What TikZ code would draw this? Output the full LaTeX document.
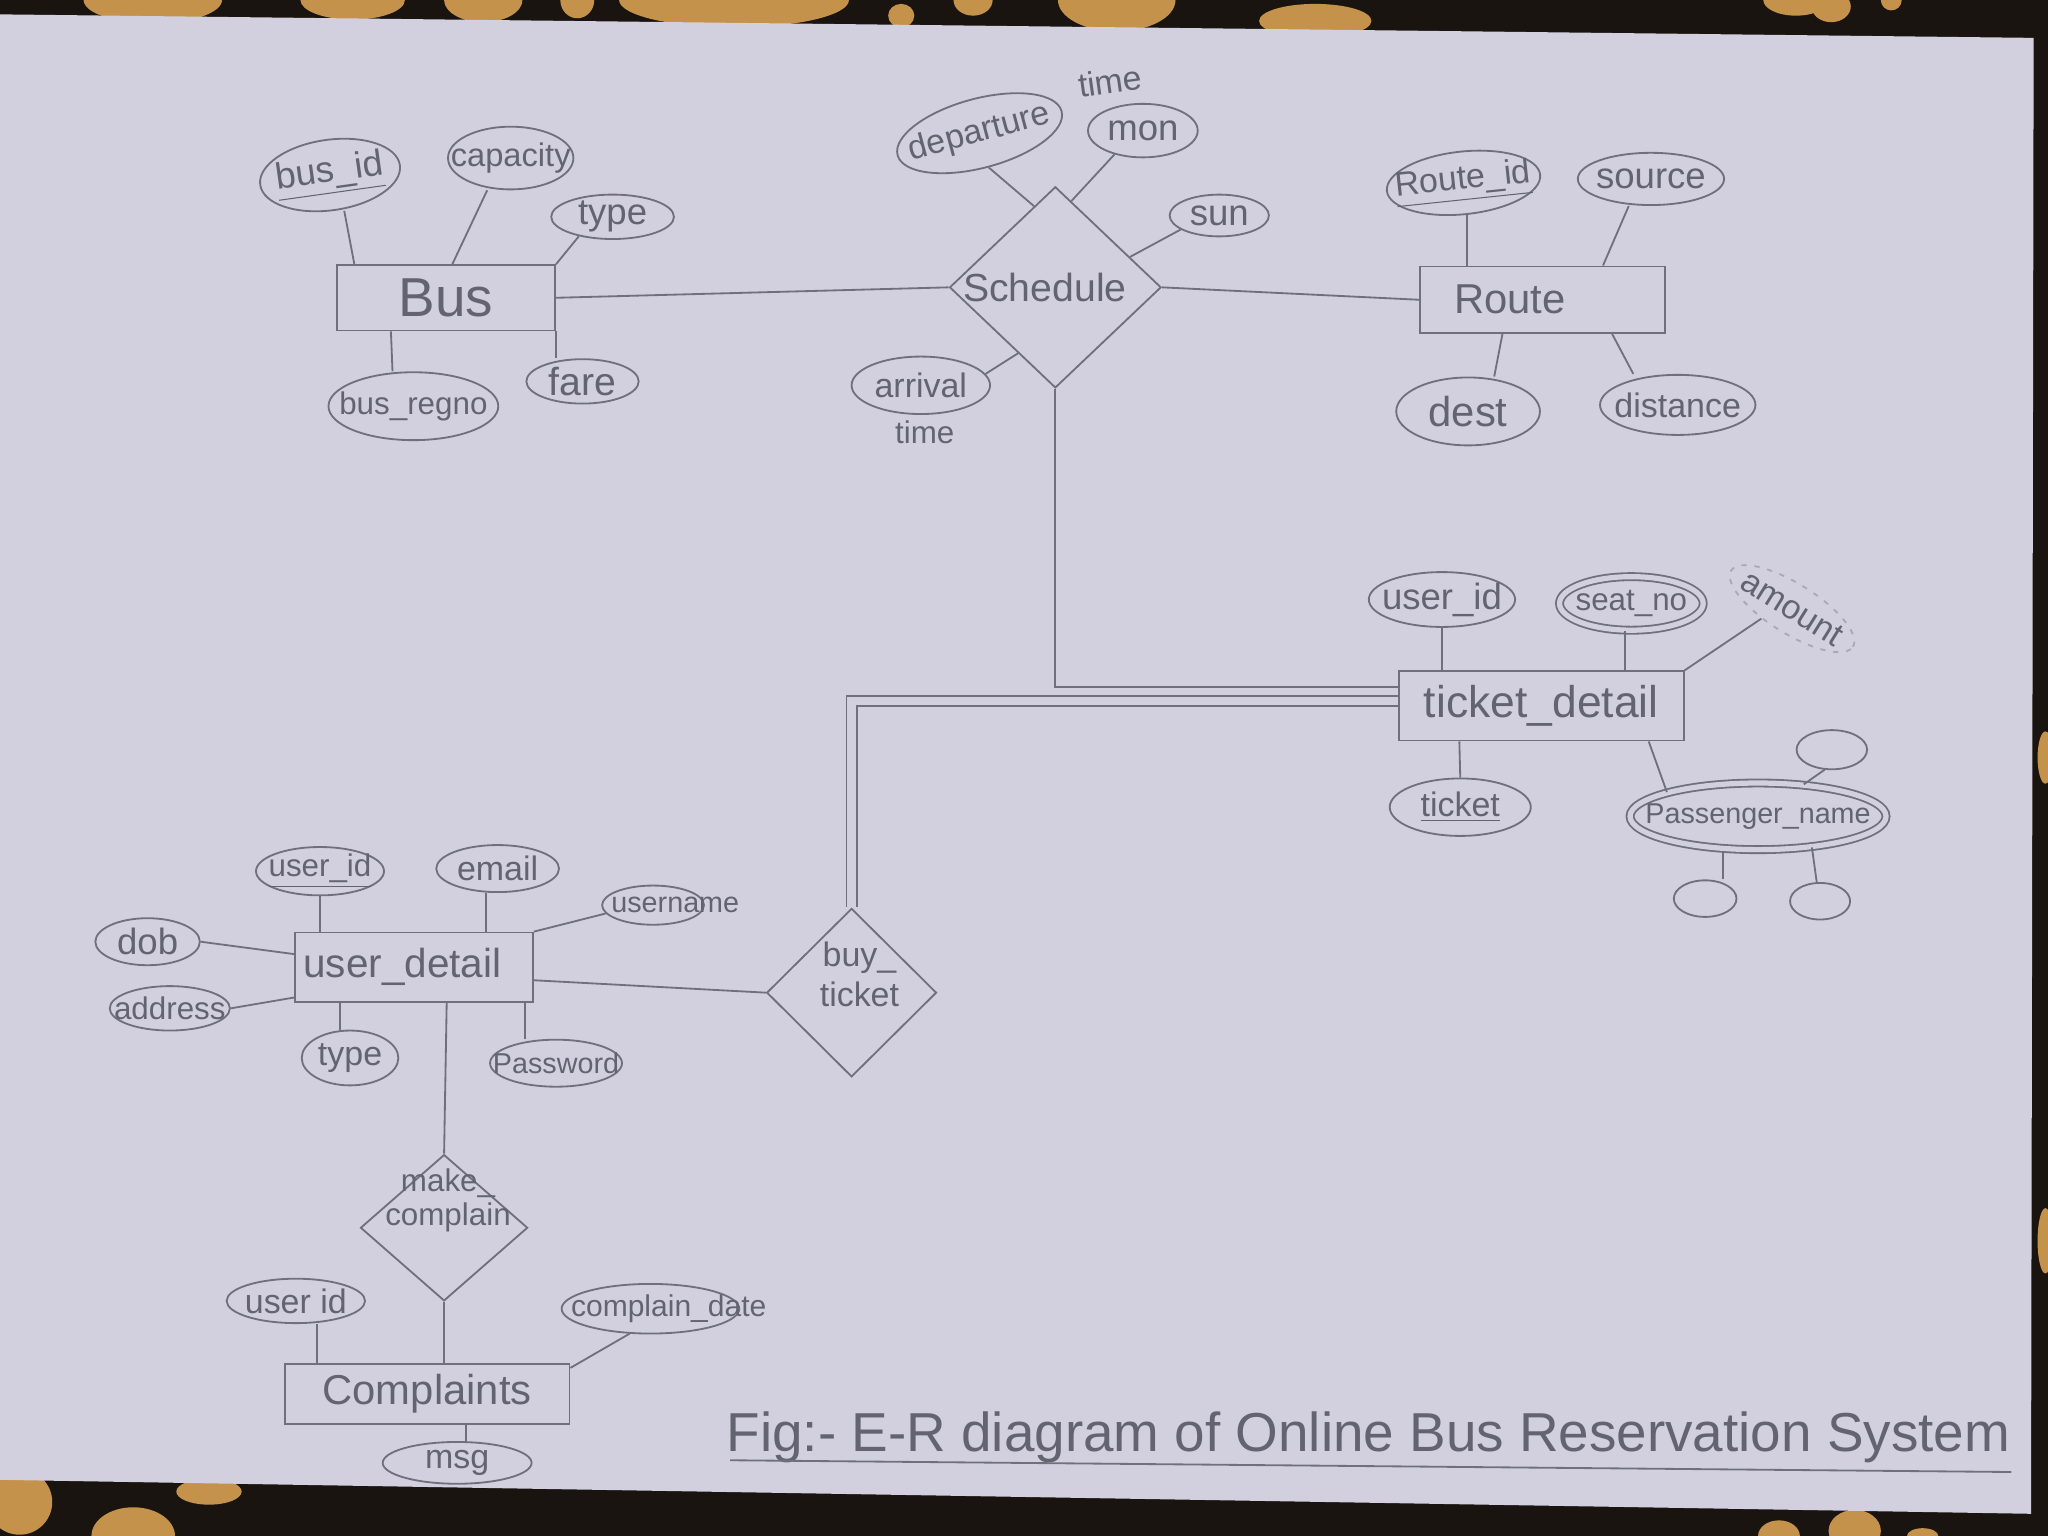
\documentclass[tikz,border=0pt]{standalone}
\usepackage{fontspec}
\setmainfont{Liberation Sans}
\usetikzlibrary{shapes.geometric,calc}
\definecolor{paper}{RGB}{210,208,222}
\definecolor{pencil}{RGB}{112,112,124}
\definecolor{ink}{RGB}{100,100,112}
\definecolor{cloth}{RGB}{26,20,16}
\definecolor{blob}{RGB}{196,146,74}
\newcommand{\fsz}[1]{\fontsize{#1}{#1}\selectfont}
\tikzset{
 conn/.style={draw=pencil, line width=0.7pt},
 entity/.style={rectangle, draw=pencil, line width=0.7pt, inner sep=0pt, text=ink},
 attr/.style={ellipse, draw=pencil, line width=0.7pt, inner sep=0pt, text=ink},
 multi/.style={attr, double=paper, double distance=2pt},
 rel/.style={diamond, draw=pencil, line width=0.7pt, inner sep=0pt, text=ink},
 txt/.style={text=ink, inner sep=0pt},
}
\begin{document}
\begin{tikzpicture}[x=0.5pt,y=-0.5pt]
\useasboundingbox (0,0) rectangle (1568,1176);
% background cloth and paper
\fill[cloth] (0,0) rectangle (1568,1176);
\fill[blob] (117,0) ellipse [x radius=53, y radius=18];
\fill[blob] (270,0) ellipse [x radius=40, y radius=15];
\fill[blob] (370,0) ellipse [x radius=30, y radius=17];
\fill[blob] (442,0) ellipse [x radius=13, y radius=14];
\fill[blob] (562,0) ellipse [x radius=88, y radius=21];
\fill[blob] (690,12) ellipse [x radius=10, y radius=9];
\fill[blob] (745,0) ellipse [x radius=15, y radius=12];
\fill[blob] (855,0) ellipse [x radius=45, y radius=24];
\fill[blob] (1007,16) ellipse [x radius=43, y radius=13];
\fill[blob] (1375,0) ellipse [x radius=25, y radius=12];
\fill[blob] (1402,5) ellipse [x radius=15, y radius=12];
\fill[blob] (1448,0) ellipse [x radius=8, y radius=8];
\fill[blob] (15,1150) ellipse [x radius=25, y radius=25];
\fill[blob] (102,1176) ellipse [x radius=32, y radius=22];
\fill[blob] (160,1142) ellipse [x radius=25, y radius=10];
\fill[blob] (1362,1176) ellipse [x radius=16, y radius=12];
\fill[blob] (1420,1172) ellipse [x radius=20, y radius=16];
\fill[blob] (1472,1176) ellipse [x radius=12, y radius=6];
\fill[blob] (1566,580) ellipse [x radius=6, y radius=20];
\fill[blob] (1566,950) ellipse [x radius=6, y radius=25];
\fill[paper] (0,11) -- (1557,29) -- (1555,1159) -- (0,1133) -- cycle;

% ---------- Bus ----------
\node[entity, minimum width=83.5pt, minimum height=25pt, font=\fsz{21}] (bus) at (341.5,228) {Bus};
\node[attr, minimum width=54pt, minimum height=27pt, rotate=8, font=\fsz{14}] (busid) at (252.7,134) {\makebox[0pt]{\underline{bus\_id}}};
\node[attr, minimum width=48pt, minimum height=24pt, font=\fsz{12.5}] (cap) at (391,121) {\makebox[0pt]{capacity}};
\node[attr, minimum width=47pt, minimum height=17pt, font=\fsz{14}] (btype) at (469,166) {\makebox[0pt]{type}};
\node[attr, minimum width=65pt, minimum height=26pt, font=\fsz{12}] (regno) at (316.5,311) {\makebox[0pt]{bus\_regno}};
\node[attr, minimum width=43pt, minimum height=17pt, font=\fsz{15}] (fare) at (446,292) {\makebox[0pt]{fare}};
\draw[conn] ($(busid.south)+(7,0)$) -- ($(bus.north west)+(14,0)$);
\draw[conn] ($(cap.south)+(-18,0)$) -- ($(bus.north west)+(89,0)$);
\draw[conn] (btype.-150) -- (bus.north east);
\draw[conn] ($(regno.north)+(-16,0)$) -- ($(bus.south west)+(42,0)$);
\draw[conn] (bus.south east) -- (bus.south east |- fare.north);

% ---------- Schedule ----------
\node[rel, minimum width=81pt, minimum height=77pt, font=\fsz{15}] (sched) at (808,220) {\makebox[0pt]{\hspace{-8pt}Schedule}};
\node[attr, minimum width=65pt, minimum height=26.5pt, rotate=15, font=\fsz{13}] (dep) at (750,102) {\makebox[0pt]{departure}};
\node[txt, font=\fsz{13}, rotate=8] (deptime) at (850,62) {time};
\node[attr, minimum width=42pt, minimum height=20.5pt, font=\fsz{14}] (mon) at (875,100) {\makebox[0pt]{mon}};
\node[attr, minimum width=38pt, minimum height=16pt, font=\fsz{14}] (sun) at (933.5,165) {\makebox[0pt]{sun}};
\node[attr, minimum width=53pt, minimum height=22pt, font=\fsz{13}] (arr) at (705,295) {\makebox[0pt]{arrival}};
\node[txt, font=\fsz{12}] (arrtime) at (708,331) {time};
\draw[conn] (dep.south) -- ($(sched.north)!0.2!(sched.west)$);
\draw[conn] (mon.-140) -- ($(sched.north)!0.15!(sched.east)$);
\draw[conn] (sun.-160) -- ($(sched.north)!0.7!(sched.east)$);
\draw[conn] (arr.10) -- ($(sched.south)!0.35!(sched.west)$);
\draw[conn] (bus.east) -- (sched.west);

% ---------- Route ----------
\node[entity, minimum width=94pt, minimum height=25.5pt, font=\fsz{16}] (route) at (1181,229.5) {\makebox[0pt]{\hspace{-25pt}Route}};
\node[attr, minimum width=59pt, minimum height=24pt, rotate=6, font=\fsz{13}] (rid) at (1120.5,140) {\makebox[0pt]{\underline{Route\_id}}};
\node[attr, minimum width=56pt, minimum height=20pt, font=\fsz{14}] (src) at (1264,137) {\makebox[0pt]{source}};
\node[attr, minimum width=55pt, minimum height=26pt, font=\fsz{16}] (dest) at (1124,315) {\makebox[0pt]{dest}};
\node[attr, minimum width=59.5pt, minimum height=23pt, font=\fsz{13}] (dist) at (1284.5,310) {\makebox[0pt]{distance}};
\draw[conn] (rid.south) -- (rid.south |- route.north);
\draw[conn] ($(src.south)+(-17,0)$) -- ($(route.north west)+(141,0)$);
\draw[conn] ($(dest.north)+(20,0)$) -- ($(route.south west)+(64,0)$);
\draw[conn] ($(dist.north)+(-34,0)$) -- ($(route.south west)+(148,0)$);
\draw[conn] (sched.east) -- (route.west);

% ---------- ticket_detail ----------
\node[entity, minimum width=109pt, minimum height=26.5pt, font=\fsz{17}] (td) at (1180,540.5) {ticket\_detail};
\node[attr, minimum width=56pt, minimum height=21pt, font=\fsz{14}] (tuid) at (1104,459) {\makebox[0pt]{user\_id}};
\node[multi, minimum width=55pt, minimum height=20.5pt, font=\fsz{12}] (seat) at (1249,462) {\makebox[0pt]{seat\_no}};
\node[attr, draw=pencil!60, dash pattern=on 2pt off 3pt, minimum width=55pt, minimum height=19pt, rotate=-32, font=\fsz{13}] (amt) at (1372,466) {\makebox[0pt]{amount}};
\node[attr, minimum width=54pt, minimum height=22pt, font=\fsz{13}] (tno) at (1118,618) {\makebox[0pt]{\underline{ticket}}};
\node[multi, minimum width=98pt, minimum height=25.5pt, font=\fsz{11}] (pname) at (1346,625) {\makebox[0pt]{Passenger\_name}};
\node[attr, minimum width=27pt, minimum height=15pt] (pc1) at (1402.5,574) {};
\node[attr, minimum width=24pt, minimum height=14pt] (pc2) at (1305.5,688) {};
\node[attr, minimum width=23pt, minimum height=14pt] (pc3) at (1393.5,690) {};
\draw[conn] (tuid.south) -- (tuid.south |- td.north);
\draw[conn] ($(seat.south)+(-5,0)$) coordinate (s1) -- (s1 |- td.north);
\draw[conn] (td.north east) -- (amt.-130);
\draw[conn] ($(td.south west)+(47,0)$) -- (tno.north);
\draw[conn] ($(td.south west)+(192,0)$) -- (pname.north west);
\draw[conn] (pname.35) -- (pc1.-110);
\draw[conn] ($(pname.south)+(-27,0)$) coordinate (q1) -- (q1 |- pc2.north);
\draw[conn] (pname.-30) -- (pc3.100);
\draw[conn] (sched.south) |- ($(td.north west)+(0,13)$);

% ---------- buy_ticket ----------
\node[rel, minimum width=65pt, minimum height=64.5pt] (bt) at (652,760) {};
\node[txt, font=\fontsize{13}{15.5}\selectfont, align=center] (bttext) at (658,746) {buy\_\\ticket};
\draw[conn, double=paper, double distance=3.2pt] ($(td.north west)+(0,23.4)$) -| (bt.north);

% ---------- user_detail ----------
\node[entity, minimum width=91pt, minimum height=26.5pt, font=\fsz{15.5}] (ud) at (317,740.5) {\makebox[0pt]{\hspace{-9pt}user\_detail}};
\node[attr, minimum width=49pt, minimum height=17pt, font=\fsz{12}] (uid) at (245,667) {\makebox[0pt]{\underline{user\_id}}};
\node[attr, minimum width=47pt, minimum height=18pt, font=\fsz{13}] (email) at (381,665) {\makebox[0pt]{email}};
\node[attr, minimum width=39pt, minimum height=15pt, font=\fsz{11}] (uname) at (500,693) {\makebox[0pt]{\hspace{17pt}username}};
\node[attr, minimum width=40pt, minimum height=18pt, font=\fsz{14}] (dob) at (113,721) {\makebox[0pt]{dob}};
\node[attr, minimum width=46pt, minimum height=17pt, font=\fsz{12}] (addr) at (130,772) {\makebox[0pt]{address}};
\node[attr, minimum width=37pt, minimum height=21pt, font=\fsz{13}] (utype) at (268,810) {\makebox[0pt]{type}};
\node[attr, minimum width=50.5pt, minimum height=18pt, font=\fsz{11}] (pw) at (425.7,814) {\makebox[0pt]{Password}};
\draw[conn] (uid.south) -- (uid.south |- ud.north);
\draw[conn] ($(email.south)+(-9,0)$) coordinate (e1) -- (e1 |- ud.north);
\draw[conn] (ud.north east) -- (uname.-170);
\draw[conn] (dob.east) -- ($(ud.west)+(0,-10)$);
\draw[conn] (addr.east) -- ($(ud.south west)+(0,-4)$);
\draw[conn] ($(utype.north)+(-8,0)$) coordinate (t1) -- (t1 |- ud.south);
\draw[conn] ($(pw.north)+(-24,0)$) coordinate (p1) -- (p1 |- ud.south);
\draw[conn] ($(ud.east)+(0,10)$) -- (bt.west);

% ---------- make_complain / Complaints ----------
\node[rel, minimum width=64pt, minimum height=56pt] (mc) at (340,940) {};
\node[txt, font=\fontsize{12}{13}\selectfont, align=center] (mctext) at (343,919) {make\_\\complain};
\node[entity, minimum width=109pt, minimum height=23pt, font=\fsz{16}] (comp) at (327,1067) {Complaints};
\node[attr, minimum width=53pt, minimum height=17pt, font=\fsz{13}] (cuid) at (226.5,996) {\makebox[0pt]{user id}};
\node[attr, minimum width=68pt, minimum height=19pt, font=\fsz{11.5}] (cdate) at (498,1002) {\makebox[0pt]{\hspace{14pt}complain\_date}};
\node[attr, minimum width=57pt, minimum height=16pt, font=\fsz{13}] (msg) at (350,1120) {\makebox[0pt]{msg}};
\draw[conn] ($(ud.south)+(25,0)$) -- (mc.north);
\draw[conn] (mc.south) -- (mc.south |- comp.north);
\draw[conn] ($(cuid.south)+(16,0)$) coordinate (c1) -- (c1 |- comp.north);
\draw[conn] ($(comp.north east)+(0,4)$) -- (cdate.-130);
\draw[conn] ($(comp.south)+(30,0)$) coordinate (m1) -- (m1 |- msg.north);

% ---------- caption ----------
\node[txt, anchor=base west, font=\fsz{21}] (caption) at (556,1111) {Fig:- E-R diagram of Online Bus Reservation System};
\coordinate (ul1) at (559,1118);
\coordinate (ul2) at (1540,1127);
\draw[conn] (ul1) -- (ul2);
\end{tikzpicture}
\end{document}
